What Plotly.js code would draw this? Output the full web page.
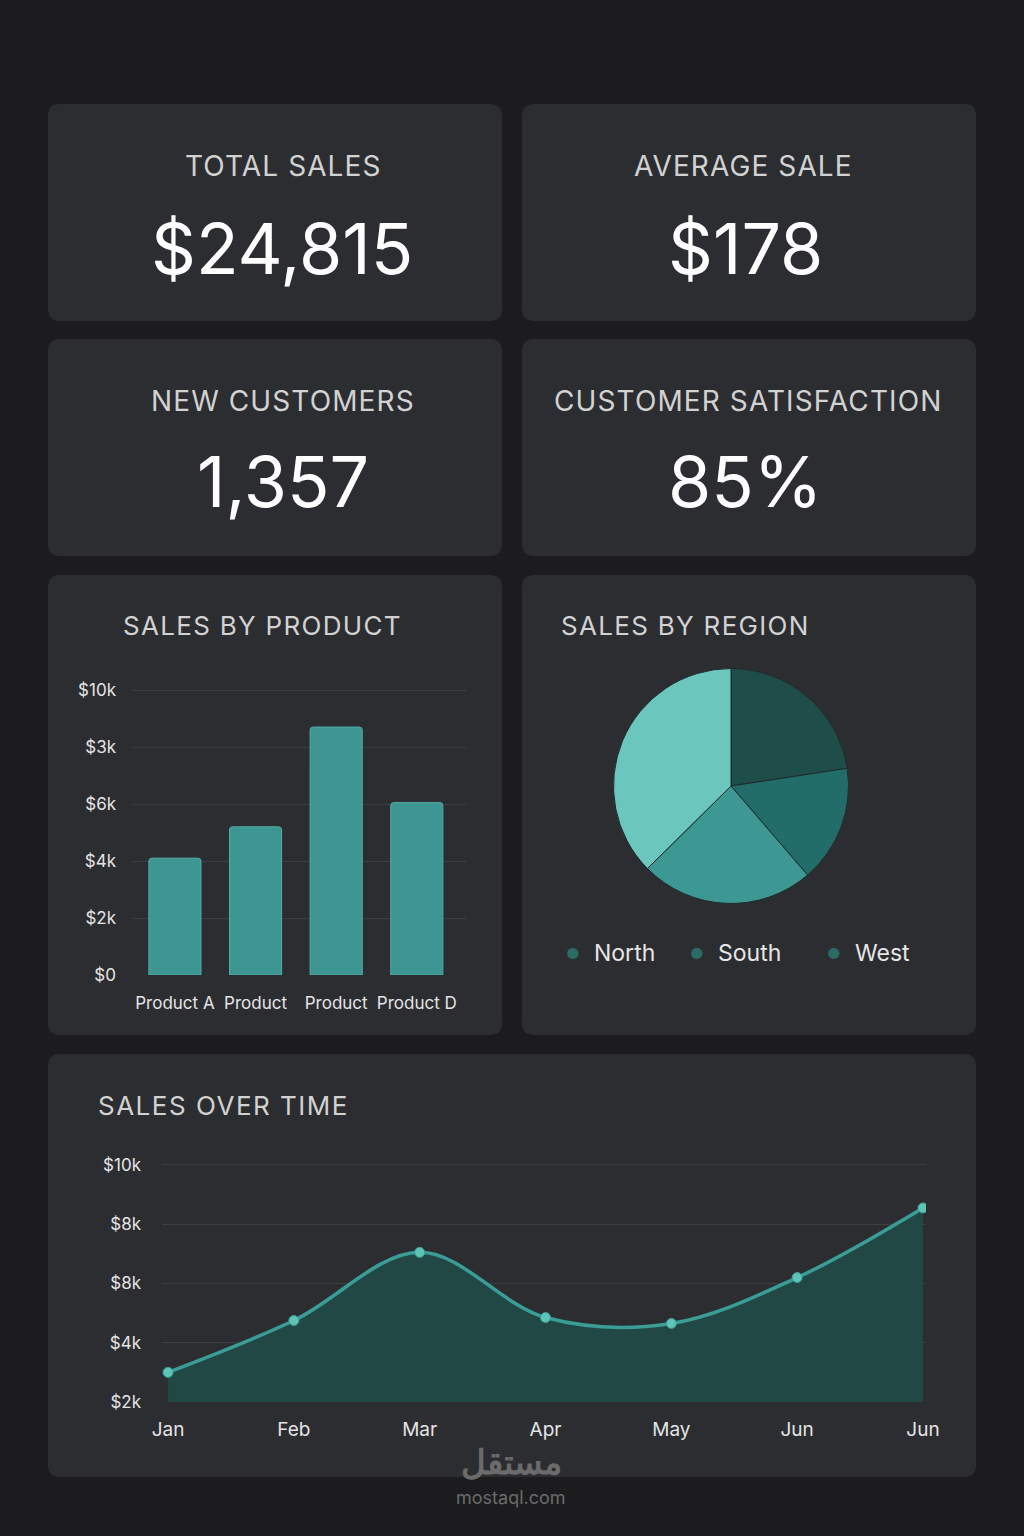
<!DOCTYPE html>
<html>
<head>
<meta charset="utf-8">
<script src="https://cdn.plot.ly/plotly-3.0.1.min.js"></script>
<style>
  html, body { margin: 0; padding: 0; background: #1c1c1e; }
  #dash { width: 1024px; height: 1536px; }
</style>
</head>
<body>
<div id="dash"></div>
<script>
// ---- data ----
const kpiTitles = ['TOTAL SALES', 'AVERAGE SALE', 'NEW CUSTOMERS', 'CUSTOMER SATISFACTION'];
const kpiValues = ['$24,815', '$178', '1,357', '85%'];

const products = ['Product A', 'Product', 'Product', 'Product D'];
const productSales = [4100, 5200, 8700, 6050];
const productTickVals = [0, 2000, 4000, 6000, 8000, 10000];
const productTickText = ['$0', '$2k', '$4k', '$6k', '$3k', '$10k'];

const regionSlices = ['North', 'South', 'West', 'Other'];
const regionShares = [22.6, 16.1, 23.9, 37.4];
const regionColors = ['#1f4d4a', '#226d69', '#3d9792', '#6bc7bd'];
const legendRegions = ['North', 'South', 'West'];

const months = ['Jan', 'Feb', 'Mar', 'Apr', 'May', 'Jun', 'Jun'];
const monthlySales = [3000, 4750, 7050, 4850, 4650, 6200, 8550];
const timeTickVals = [2000, 4000, 6000, 8000, 10000];
const timeTickText = ['$2k', '$4k', '$8k', '$8k', '$10k'];

// ---- page geometry helpers (pixel -> paper) ----
const W = 1024, H = 1536;
const PX = v => v / W;
const PY = v => 1 - v / H;
const FONT = 'Inter, "Noto Sans", sans-serif';

function roundedCard(x0, y0, x1, y1, r) {
  const p = [
    `M${PX(x0 + r)},${PY(y0)}`,
    `L${PX(x1 - r)},${PY(y0)}`,
    `Q${PX(x1)},${PY(y0)} ${PX(x1)},${PY(y0 + r)}`,
    `L${PX(x1)},${PY(y1 - r)}`,
    `Q${PX(x1)},${PY(y1)} ${PX(x1 - r)},${PY(y1)}`,
    `L${PX(x0 + r)},${PY(y1)}`,
    `Q${PX(x0)},${PY(y1)} ${PX(x0)},${PY(y1 - r)}`,
    `L${PX(x0)},${PY(y0 + r)}`,
    `Q${PX(x0)},${PY(y0)} ${PX(x0 + r)},${PY(y0)}`,
    'Z'
  ].join(' ');
  return { type: 'path', xref: 'paper', yref: 'paper', path: p,
           fillcolor: '#2c2d31', line: { width: 0 }, layer: 'below' };
}

const cards = [
  [48, 104, 502, 321], [522, 104, 976, 321],
  [48, 339, 502, 556], [522, 339, 976, 556],
  [48, 575, 502, 1035], [522, 575, 976, 1035],
  [48, 1054, 976, 1477]
];
const shapes = cards.map(c => roundedCard(c[0], c[1], c[2], c[3], 12));

function label(text, x, y, size, color, anchor) {
  return { text: text, x: PX(x), y: PY(y), xref: 'paper', yref: 'paper',
           xanchor: anchor || 'center', yanchor: 'middle', showarrow: false,
           font: { family: FONT, size: size, color: color } };
}
const spaced = (t, s) => `<span style="letter-spacing:${s}px">${t}</span>`;

const annotations = [];
// KPI cards
const kpiPos = [[283, 166, 282, 248], [743, 166, 745, 248],
                [283, 401, 283, 482], [748, 401, 745, 482]];
kpiTitles.forEach((t, i) => {
  const p = kpiPos[i];
  annotations.push(label(spaced(t, 1.1), p[0], p[1], 28, '#d2d2d2'));
  annotations.push(label(kpiValues[i], p[2], p[3], 70, '#ffffff'));
});
// chart card titles
annotations.push(label(spaced('SALES BY PRODUCT', 1.3), 262, 625, 26, '#d2d2d2'));
annotations.push(label(spaced('SALES BY REGION', 1.3), 559, 625, 26, '#d2d2d2', 'left'));
annotations.push(label(spaced('SALES OVER TIME', 1.5), 96, 1105, 26, '#d2d2d2', 'left'));
// region legend
const legendX = [573, 697, 834];
legendRegions.forEach((r, i) => {
  annotations.push(label('●', legendX[i], 953, 15, '#2b6b66'));
  annotations.push(label(r, legendX[i] + 19, 953, 23, '#e6e6e6', 'left'));
});
// footer mark
annotations.push(label('<b>مستقل</b>', 511, 1461, 34, '#6b6b6b'));
annotations.push(label('mostaql.com', 511, 1497, 18, '#6b6b6b'));

// ---- traces ----
const barTrace = {
  type: 'bar', x: [0, 1, 2, 3], y: productSales,
  xaxis: 'x', yaxis: 'y',
  marker: { color: '#3d9691', line: { color: '#4fb0a8', width: 1 }, cornerradius: 3 },
  hoverinfo: 'skip', showlegend: false
};

const pieTrace = {
  type: 'pie', labels: regionSlices, values: regionShares, sort: false,
  direction: 'clockwise', rotation: 0,
  marker: { colors: regionColors, line: { color: '#1f2a2a', width: 1 } },
  textinfo: 'none', hoverinfo: 'skip', showlegend: false,
  domain: { x: [PX(613.5), PX(848.5)], y: [PY(903.5), PY(668.5)] }
};

const lineTrace = {
  type: 'scatter', mode: 'lines+markers',
  x: months.map((m, i) => i), y: monthlySales,
  xaxis: 'x2', yaxis: 'y2',
  line: { color: '#3a9e96', width: 3.5, shape: 'spline' },
  marker: { color: '#5ec4b8', size: 10, line: { color: '#3a9e96', width: 1 } },
  fill: 'tozeroy', fillcolor: '#224845',
  hoverinfo: 'skip', showlegend: false
};

const axisFont = { family: FONT, size: 17, color: '#e4e4e4' };

const layout = {
  width: W, height: H,
  margin: { l: 0, r: 0, t: 0, b: 0 },
  paper_bgcolor: '#1c1c1e',
  plot_bgcolor: 'rgba(0,0,0,0)',
  showlegend: false,
  bargap: 0.354,
  shapes: shapes,
  annotations: annotations,
  xaxis: {
    domain: [PX(133), PX(466)], anchor: 'y',
    range: [-0.52, 3.61], tickvals: [0, 1, 2, 3], ticktext: products,
    showgrid: false, zeroline: false, showline: false, ticks: '',
    tickfont: axisFont, ticklabelstandoff: 16, fixedrange: true
  },
  yaxis: {
    // top of range sits just above $10k so that gridline is drawn
    domain: [PY(975), PY(687.15)], anchor: 'x',
    range: [0, 10100], tickvals: productTickVals, ticktext: productTickText,
    showgrid: true, gridcolor: '#3d3e43', gridwidth: 1,
    zeroline: false, showline: false, ticks: '',
    tickfont: axisFont, ticklabelstandoff: 16, fixedrange: true
  },
  xaxis2: {
    domain: [PX(162), PX(926)], anchor: 'y2',
    range: [-0.048, 6.024], tickvals: months.map((m, i) => i), ticktext: months,
    showgrid: false, zeroline: false, showline: false, ticks: '',
    tickfont: { family: FONT, size: 19, color: '#e4e4e4' },
    ticklabelstandoff: 14, fixedrange: true
  },
  yaxis2: {
    domain: [PY(1402), PY(1162)], anchor: 'x2',
    range: [2000, 10100], tickvals: timeTickVals, ticktext: timeTickText,
    showgrid: true, gridcolor: '#3d3e43', gridwidth: 1,
    zeroline: false, showline: false, ticks: '',
    tickfont: { family: FONT, size: 17, color: '#e4e4e4' },
    ticklabelstandoff: 20, fixedrange: true
  }
};

Plotly.newPlot('dash', [barTrace, pieTrace, lineTrace], layout,
               { displayModeBar: false, staticPlot: true });
</script>
</body>
</html>
